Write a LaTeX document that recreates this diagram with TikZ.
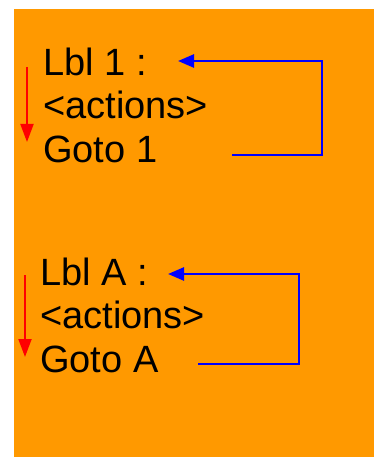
\documentclass[tikz,border=0pt]{standalone}
\usepackage{fontspec}
\setmainfont{Liberation Sans}
\usetikzlibrary{arrows.meta}
\definecolor{bgorange}{HTML}{FF9900}
\begin{document}
\begin{tikzpicture}[x=1pt,y=-1pt,
  codetext/.style={anchor=base west,inner sep=0pt,font=\fontsize{38}{40}\selectfont},
  jumparrow/.style={draw=blue,line width=2.6pt,-{Triangle[length=16pt,width=13pt]}},
  flowarrow/.style={draw=red,line width=2pt,-{Triangle[length=18pt,width=13pt]}}]
\useasboundingbox (0,0) rectangle (374,457);
\fill[bgorange] (14,9) rectangle (374,457);
% block 1
\node[codetext] (l1) at (43,76) {Lbl 1 :};
\node[codetext] (a1) at (43,119) {<actions>};
\node[codetext] (g1) at (43,163) {Goto 1};
\coordinate (s1) at (232,155);
\coordinate (c1b) at (322,155);
\coordinate (c1t) at (322,61);
\coordinate (t1) at (178,61);
\draw[jumparrow] (s1) -- (c1b) -- (c1t) -- (t1);
\coordinate (r1s) at (27,67);
\coordinate (r1e) at (27,142);
\draw[flowarrow] (r1s) -- (r1e);
% block 2
\node[codetext] (l2) at (40,285) {Lbl A :};
\node[codetext] (a2) at (40,328) {<actions>};
\node[codetext] (g2) at (40,372) {Goto A};
\coordinate (s2) at (198,364);
\coordinate (c2b) at (299,364);
\coordinate (c2t) at (299,274);
\coordinate (t2) at (168,274);
\draw[jumparrow] (s2) -- (c2b) -- (c2t) -- (t2);
\coordinate (r2s) at (25,275);
\coordinate (r2e) at (25,357);
\draw[flowarrow] (r2s) -- (r2e);
\end{tikzpicture}
\end{document}
